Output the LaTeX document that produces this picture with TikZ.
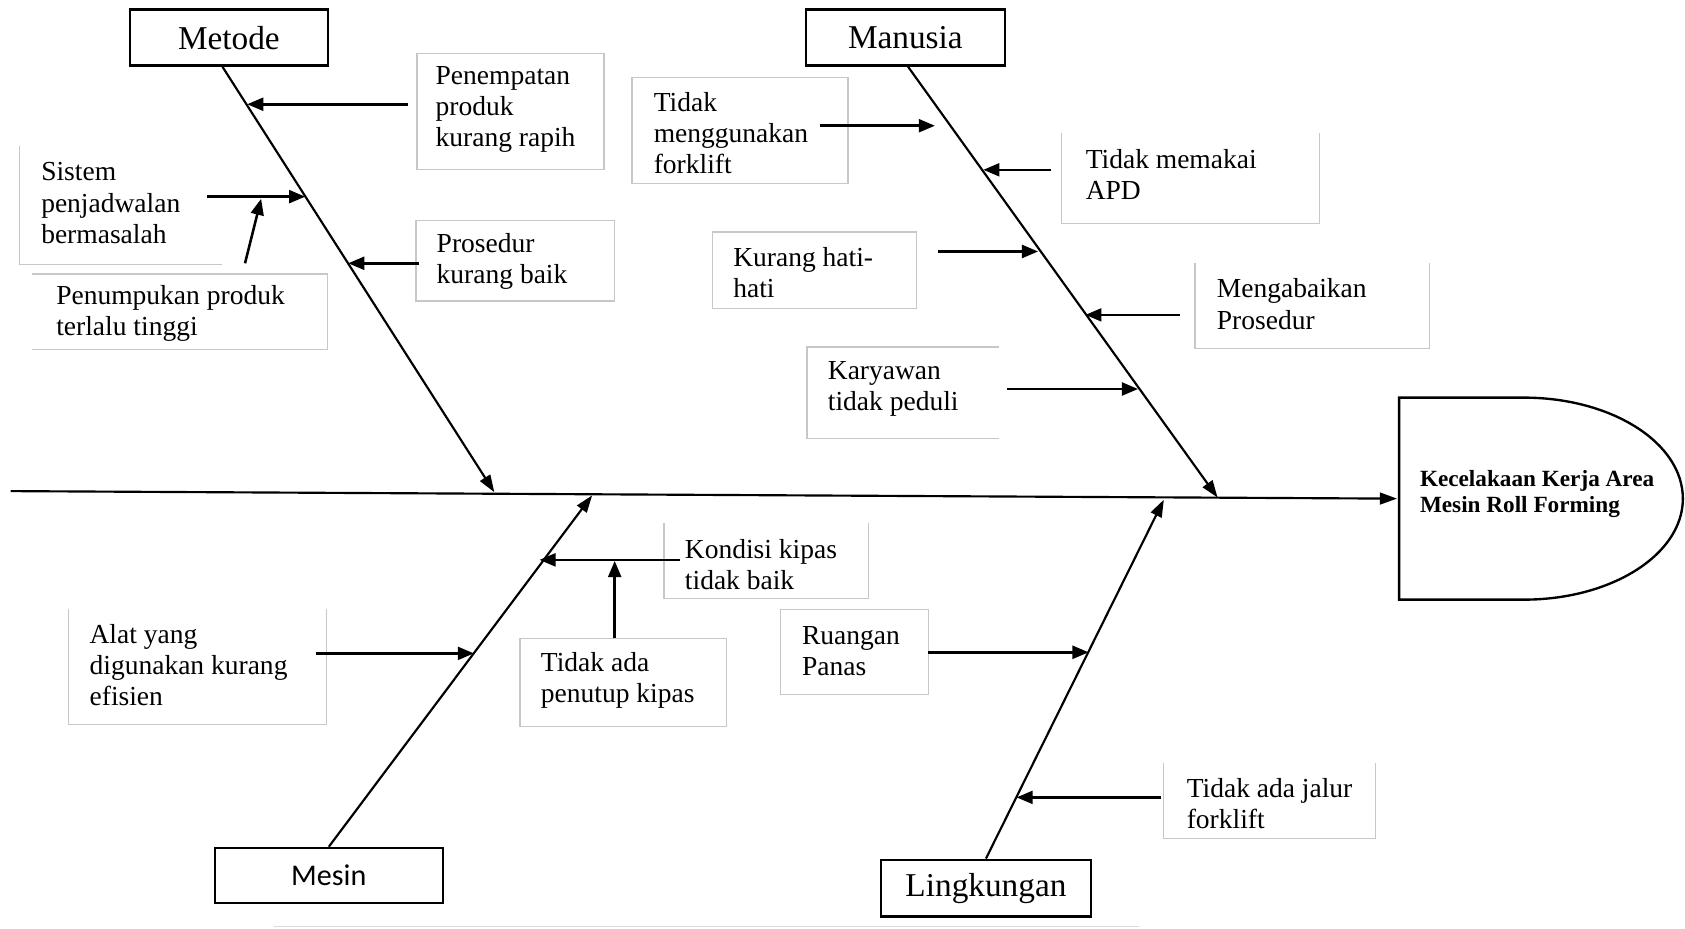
\documentclass[tikz,border=0pt]{standalone}
\usepackage{fontspec}
\setmainfont{Liberation Serif}
\newfontfamily\carlito{Carlito}
\usetikzlibrary{arrows.meta,calc}
\begin{document}
\begin{tikzpicture}[x=0.5pt,y=-0.5pt,
  cause/.style={inner sep=0pt, align=left, anchor=west, font=\fontsize{12.8}{14.5}\selectfont},
  catbox/.style={draw, line width=1.1pt, inner sep=0pt, font=\fontsize{15.5}{18}\selectfont},
  gbox/.style={draw=black!22, line width=0.6pt},
  bone/.style={line width=1pt, -{Triangle[length=8pt,width=5.5pt]}},
  carrow/.style={line width=1.2pt, -{Triangle[length=7.5pt,width=6pt]}},
  headtxt/.style={inner sep=0pt, align=left, anchor=west, font=\bfseries\fontsize{10.8}{12}\selectfont}]
\useasboundingbox (0,0) rectangle (1568,864);

% category boxes
\node[catbox, minimum width=92pt, minimum height=26pt] (met) at (213,35) {Metode};
\node[catbox, minimum width=92.5pt, minimum height=26pt] (man) at (842.5,35) {Manusia};
\node[catbox, minimum width=106pt, minimum height=25.5pt, font=\carlito\fontsize{14}{16}\selectfont] (mes) at (306,814.5) {Mesin};
\node[catbox, minimum width=97.5pt, minimum height=26.5pt] (lin) at (917.5,826.5) {Lingkungan};

% head
\draw[line width=1.1pt] (1302,370) -- (1418,370) arc[start angle=90, end angle=-90, x radius=74pt, y radius=47pt] -- (1302,558) -- cycle;
\coordinate (headW) at (1300,464);
\node[headtxt] (head) at (1321,460) {Kecelakaan Kerja Area\\Mesin Roll Forming};

% spine and bones
\coordinate (spineL) at (10,457);
\coordinate (metE) at (460,458);
\coordinate (manE) at (1133,463);
\coordinate (mesE) at (551,461);
\coordinate (linE) at (1083,465);
\draw[bone] (spineL) -- (headW);
\draw[bone] ($(met.south)+(-6,0)$) -- (metE);
\draw[bone] ($(man.south)+(2.5,0)$) -- (manE);
\draw[bone] (mes.north) -- (mesE);
\draw[bone] (lin.north) -- (linE);

% cause texts
\node[cause] (pen) at (405,102) {Penempatan\\produk\\kurang rapih};
\node[cause] (sis) at (38,189) {Sistem\\penjadwalan\\bermasalah};
\node[cause] (penum) at (52,292) {Penumpukan produk\\terlalu tinggi};
\node[cause] (pros) at (406,243) {Prosedur\\kurang baik};
\node[cause] (tmf) at (608,124) {Tidak\\menggunakan\\forklift};
\node[cause] (apd) at (1010,162) {Tidak memakai\\APD};
\node[cause] (khh) at (682,254) {Kurang hati-\\hati};
\node[cause] (meng) at (1132,283) {Mengabaikan\\Prosedur};
\node[cause] (kar) at (770,362) {Karyawan\\tidak peduli};
\node[cause] (kon) at (637,525) {Kondisi kipas\\tidak baik};
\node[cause] (tap) at (503,633) {Tidak ada\\penutup kipas};
\node[cause] (alat) at (83,619) {Alat yang\\digunakan kurang\\efisien};
\node[cause] (rua) at (746,606) {Ruangan\\Panas};
\node[cause] (jal) at (1104,748) {Tidak ada jalur\\forklift};

% light box borders
\draw[gbox] (388,50) rectangle (562,158);
\draw[gbox] (18,136) -- (18,246) -- (207,246);
\draw[gbox] (30,255) -- (305,255) -- (305,325) -- (30,325);
\draw[gbox] (387,205) rectangle (572,280);
\draw[gbox] (588,72) rectangle (789,171);
\draw[gbox] (988,124) -- (988,208) -- (1228,208) -- (1228,124);
\draw[gbox] (663,216) rectangle (853,287);
\draw[gbox] (1112,245) -- (1112,324) -- (1330,324) -- (1330,245);
\draw[gbox] (930,323) -- (751,323) -- (751,408) -- (930,408);
\draw[gbox] (618,487) -- (618,557) -- (808,557) -- (808,487);
\draw[gbox] (484,594) rectangle (676,676);
\draw[gbox] (64,567) -- (64,674) -- (304,674) -- (304,567);
\draw[gbox] (726,567) rectangle (864,646);
\draw[gbox] (1083,710) -- (1083,780) -- (1280,780) -- (1280,710);
\draw[draw=black!15, line width=0.6pt] (255,862) -- (1060,862);

% arrow end points
\coordinate (penS) at (380,97);   \coordinate (penT) at (230,97);
\coordinate (sisS) at (193,183);  \coordinate (sisT) at (284,183);
\coordinate (penumS) at (228,245);\coordinate (penumT) at (243,185);
\coordinate (prosS) at (390,245); \coordinate (prosT) at (324,245);
\coordinate (tmfS) at (763,117);  \coordinate (tmfT) at (870,117);
\coordinate (apdS) at (978,158);  \coordinate (apdT) at (915,158);
\coordinate (khhS) at (873,234);  \coordinate (khhT) at (966,234);
\coordinate (mengS) at (1098,293);\coordinate (mengT) at (1010,293);
\coordinate (karS) at (937,362);  \coordinate (karT) at (1059,362);
\coordinate (konS) at (633,521);  \coordinate (konT) at (502,521);
\coordinate (tapS) at (572,594);  \coordinate (tapT) at (572,522);
\coordinate (alatS) at (294,608); \coordinate (alatT) at (441,608);
\coordinate (ruaS) at (864,607);  \coordinate (ruaT) at (1013,607);
\coordinate (jalS) at (1080,742); \coordinate (jalT) at (946,742);

\foreach \n in {pen,sis,penum,pros,tmf,apd,khh,meng,kar,kon,tap,alat,rua,jal}
  \draw[carrow] (\n S) -- (\n T);
\end{tikzpicture}
\end{document}
